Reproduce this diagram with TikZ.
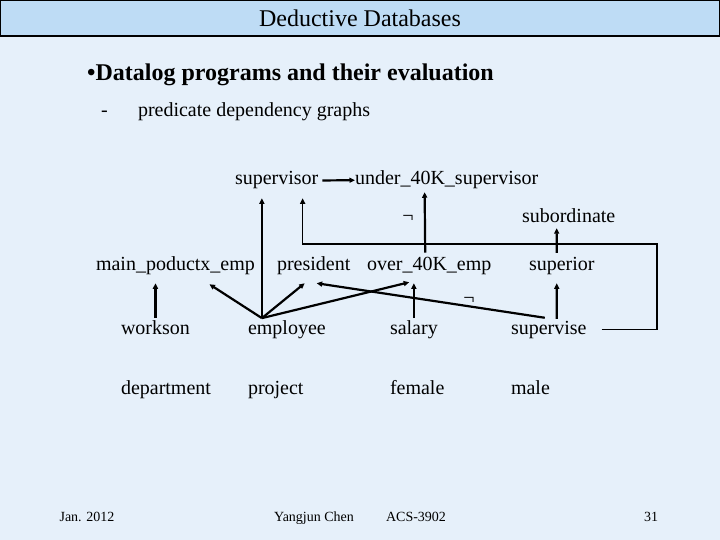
\documentclass[tikz,border=0pt]{standalone}
\usepackage{fontspec}
\setmainfont{Liberation Serif}
\usetikzlibrary{arrows.meta}
\definecolor{slidebg}{RGB}{230,240,250}
\definecolor{titlebg}{RGB}{190,220,245}
\begin{document}
\begin{tikzpicture}[x=1bp,y=-1bp,
    pred/.style={anchor=base west,inner sep=0pt,outer sep=0pt,font=\fontsize{20bp}{24bp}\selectfont},
    foot/.style={anchor=base,inner sep=0pt,font=\fontsize{14bp}{16bp}\selectfont},
    negmark/.style={inner sep=0pt,font=\fontsize{20bp}{24bp}\selectfont},
    dep/.style={line width=2.2bp,-{Triangle[length=5.5bp,width=5bp]}},
    route/.style={line width=1.4bp,-{Triangle[length=5.5bp,width=5bp]}}]
  \fill[slidebg] (0,0) rectangle (720,540);
  \useasboundingbox (0,0) rectangle (720,540);
  \draw[line width=1.4bp,fill=titlebg] (0.7,0.7) rectangle (719.3,36);
  \node[anchor=base,inner sep=0pt,font=\fontsize{24bp}{28bp}\selectfont] (title) at (360,27) {Deductive Databases};
  \node[anchor=base west,inner sep=0pt,font=\bfseries\fontsize{24bp}{28bp}\selectfont] (topic) at (87,81) {•Datalog programs and their evaluation};
  \node[pred] (dash) at (101,117) {-};
  \node[pred] (subtopic) at (138,117) {predicate dependency graphs};
  \path
    (235,185) node[pred] (supervisor) {supervisor}
    (355,185) node[pred] (under) {under\_40K\_supervisor}
    (522,223) node[pred] (subordinate) {subordinate}
    (96,271) node[pred] (mainemp) {main\_poductx\_emp}
    (277,271) node[pred] (president) {president}
    (367,271) node[pred] (over) {over\_40K\_emp}
    (529,271) node[pred] (superior) {superior}
    (121,334) node[pred] (workson) {workson}
    (248,334) node[pred] (employee) {employee}
    (390,334) node[pred] (salary) {salary}
    (511,334) node[pred] (supervise) {supervise}
    (121,394) node[pred] (department) {department}
    (248,394) node[pred] (project) {project}
    (390,394) node[pred] (female) {female}
    (511,394) node[pred] (male) {male};
  \node[negmark] (negA) at (408,219) {¬};
  \node[negmark] (negB) at (469,301) {¬};
  \begin{scope}[dep]
    \coordinate (apex) at ([xshift=-25bp,yshift=2bp]employee.north);
    \draw[shorten <=4bp] (supervisor.east) to (under.west);
    \draw[shorten <=2bp,shorten >=8bp] (workson.north) to (workson.north |- mainemp.south);
    \draw (apex) to ([xshift=34bp,yshift=-9bp]mainemp.south);
    \draw[shorten >=9bp] (apex) to (apex |- supervisor.south);
    \draw (apex) to ([xshift=-9bp,yshift=-8bp]president.south);
    \draw (apex) to ([xshift=-20bp,yshift=-7bp]over.south);
    \draw[shorten <=2bp,shorten >=8bp] (salary.north) to (salary.north |- over.south);
    \draw ([xshift=-4bp,yshift=3bp]supervise.north) to ([xshift=3bp,yshift=-8bp]president.south);
    \draw ([xshift=8bp,yshift=2bp]supervise.north) to ([xshift=-5bp,yshift=-8bp]superior.south);
    \draw ([xshift=-5bp,yshift=5bp]superior.north) to ([xshift=-12bp,yshift=-5bp]subordinate.south);
    \draw ([xshift=-4bp,yshift=5bp]over.north) to ([xshift=-22bp,yshift=-3bp]under.south);
  \end{scope}
  \coordinate (corner) at (657,244);
  \draw[route,shorten <=15bp] (supervise.east) -| (corner) -| ([xshift=26bp,yshift=-9bp]supervisor.south);
  \node[foot] (date) at (87,521) {Jan. 2012};
  \node[foot] (author) at (314,521) {Yangjun Chen};
  \node[foot] (course) at (416,521) {ACS-3902};
  \node[foot] (page) at (651,521) {31};
\end{tikzpicture}
\end{document}
